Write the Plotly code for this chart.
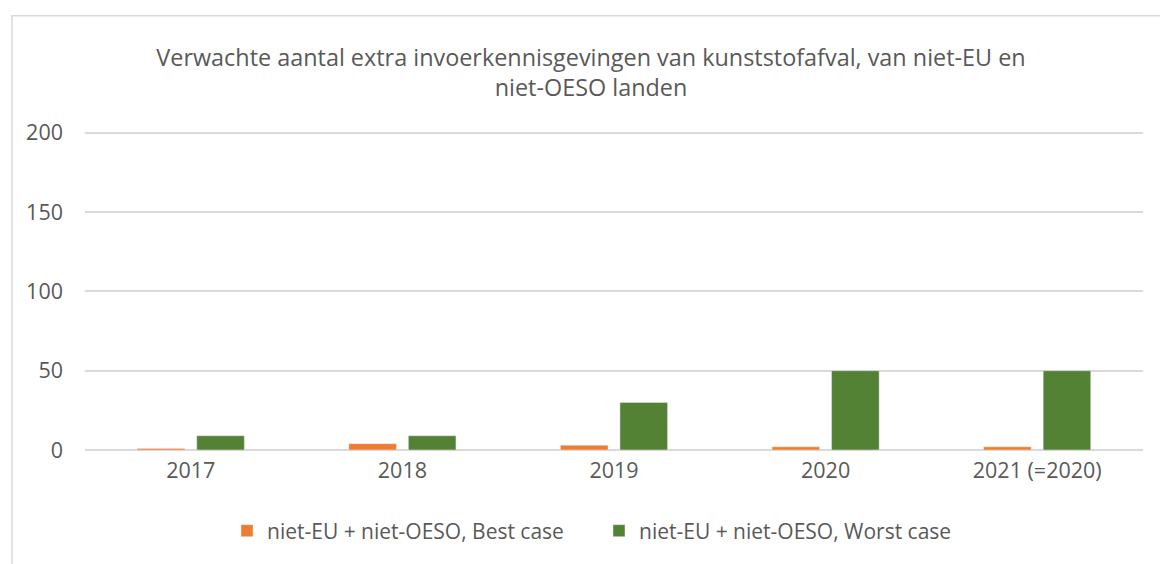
import plotly.graph_objects as go

categories = ["2017", "2018", "2019", "2020", "2021 (=2020)"]
best_case = [1, 4, 3, 2, 2]
worst_case = [9, 9, 30, 50, 50]
series_names = ["niet-EU + niet-OESO, Best case", "niet-EU + niet-OESO, Worst case"]
y_ticks = [0, 50, 100, 150, 200]

W, H = 1160, 564
ml, mr, mt, mb = 85, 17, 128, 106
pw, ph = W - ml - mr, H - mt - mb

font_family = "Open Sans, Liberation Sans, sans-serif"
gray = "#595959"

fig = go.Figure()
fig.add_trace(go.Bar(x=categories, y=best_case, name=series_names[0], marker_color="#ED7D31"))
fig.add_trace(go.Bar(x=categories, y=worst_case, name=series_names[1], marker_color="#548235"))

fig.update_layout(
    width=W, height=H,
    margin=dict(l=ml, r=mr, t=mt, b=mb),
    plot_bgcolor="white", paper_bgcolor="white",
    barmode="group", bargap=0.4375, bargroupgap=0.2,
    font=dict(family=font_family, color=gray, size=21),
    title=dict(
        text="Verwachte aantal extra invoerkennisgevingen van kunststofafval, van niet-EU en<br>niet-OESO landen",
        x=591 / W, xanchor="center", y=1 - 66 / H, yanchor="middle", yref="container",
        font=dict(size=23.4, color=gray, family=font_family),
    ),
    legend=dict(
        orientation="h", x=(250 - ml - 23) / pw, xanchor="left", y=(H - mb - 541) / ph, yanchor="middle",
        font=dict(size=21, color=gray), itemwidth=30, traceorder="normal",
        entrywidth=327, entrywidthmode="pixels",
    ),
    xaxis=dict(showgrid=False, ticks="", tickfont=dict(size=21.5, color=gray), showline=False,
               ticklabelstandoff=5),
    yaxis=dict(
        range=[0, 203], tickvals=y_ticks, showgrid=True, gridcolor="#d9d9d9", gridwidth=1.5,
        zeroline=True, zerolinecolor="#d9d9d9", zerolinewidth=1.5,
        tickfont=dict(size=21.5, color=gray), ticks="", ticklabelstandoff=21,
    ),
    shapes=[dict(
        type="rect", xref="paper", yref="paper",
        x0=(12 - ml) / pw, x1=(1170 - ml) / pw,
        y0=(H - mb - 620) / ph, y1=(H - mb - 13) / ph,
        line=dict(color="#d9d9d9", width=1.5), fillcolor="rgba(0,0,0,0)", layer="below",
    )],
)

fig.write_html(
    "out.html",
    config={"displayModeBar": False},
    post_script="document.body.style.margin='0';document.body.style.overflow='hidden';",
)
